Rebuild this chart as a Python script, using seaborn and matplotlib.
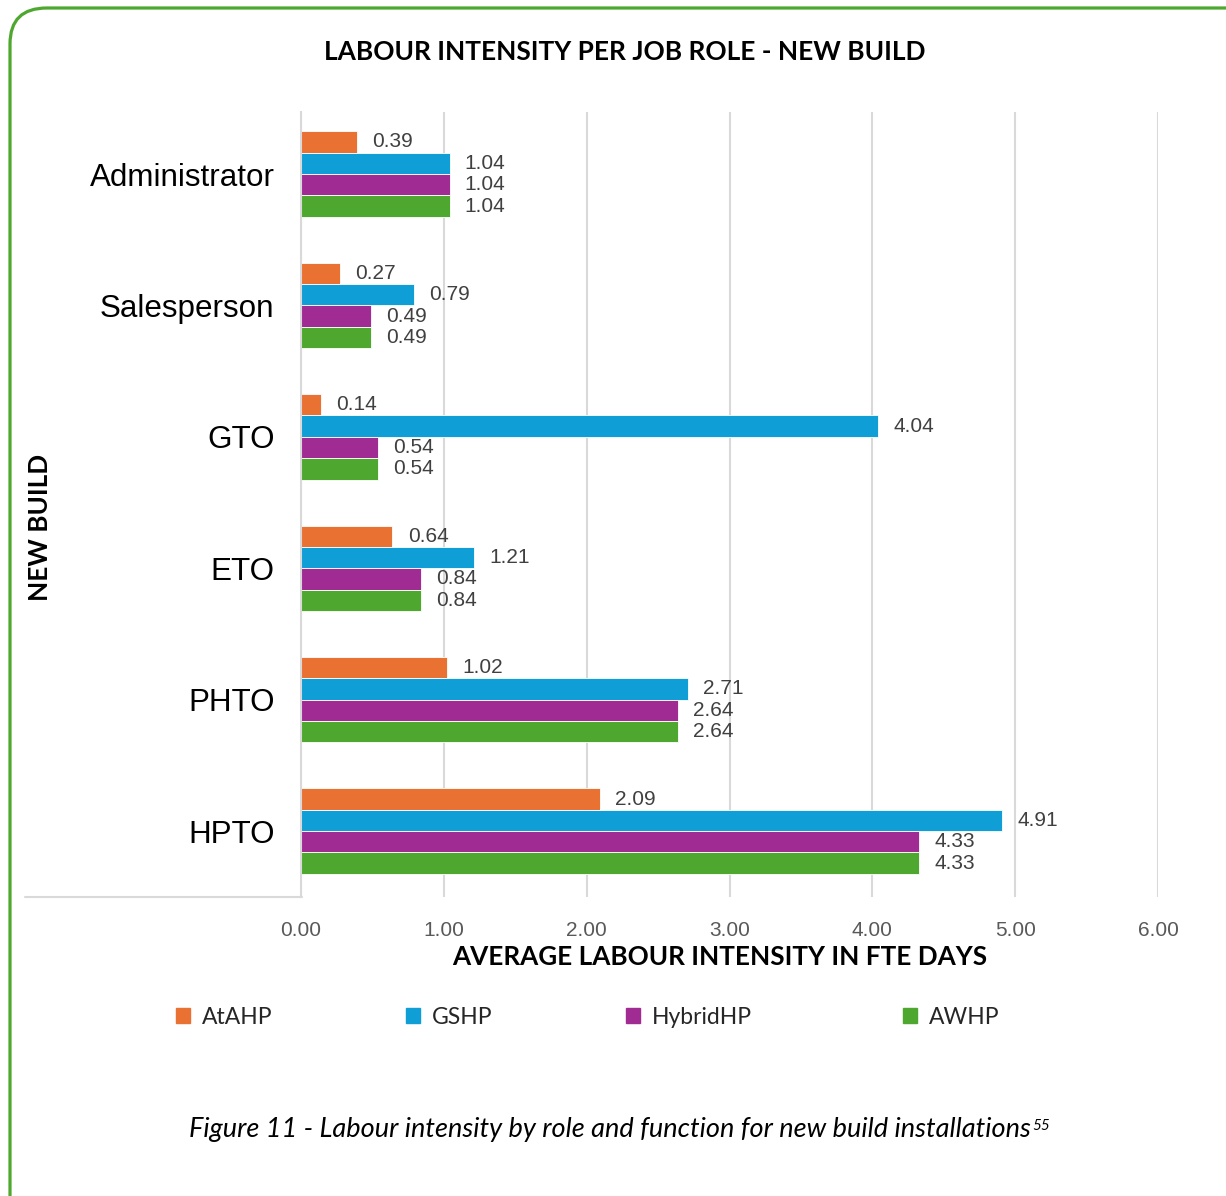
import matplotlib
matplotlib.use("Agg")
import matplotlib.pyplot as plt
from matplotlib import font_manager
from matplotlib.patches import FancyBboxPatch, Patch
from matplotlib.lines import Line2D
import seaborn as sns
import pandas as pd

# ---- data ----
roles = ["Administrator", "Salesperson", "GTO", "ETO", "PHTO", "HPTO"]
series = ["AtAHP", "GSHP", "HybridHP", "AWHP"]
atahp = [0.39, 0.27, 0.14, 0.64, 1.02, 2.09]
gshp = [1.04, 0.79, 4.04, 1.21, 2.71, 4.91]
hybridhp = [1.04, 0.49, 0.54, 0.84, 2.64, 4.33]
awhp = [1.04, 0.49, 0.54, 0.84, 2.64, 4.33]
x_ticks = [0, 1, 2, 3, 4, 5, 6]
colors = ["#E97132", "#0F9ED5", "#A02B93", "#4EA72E"]

title = "LABOUR INTENSITY PER JOB ROLE - NEW BUILD"
xlabel = "AVERAGE LABOUR INTENSITY IN FTE DAYS"
ylabel = "NEW BUILD"
caption = "Figure 11 - Labour intensity by role and function for new build installations"
caption_sup = "55"

rows = []
for s, vals in zip(series, [atahp, gshp, hybridhp, awhp]):
    for r, v in zip(roles, vals):
        rows.append({"role": r, "type": s, "value": v})
df = pd.DataFrame(rows)

sns.set_theme(style="white")
available = {f.name for f in font_manager.fontManager.ttflist}
def pick(*names):
    for n in names:
        if n in available:
            return n
    return "DejaVu Sans"
F_ARIAL = pick("Liberation Sans", "Arimo", "DejaVu Sans")
F_NARROW = pick("Liberation Sans Narrow", "Liberation Sans")
F_LATO = pick("Lato", "Open Sans", "DejaVu Sans")
plt.rcParams["font.family"] = [F_ARIAL, "DejaVu Sans"]

W, H = 1226, 1196
fig = plt.figure(figsize=(W / 100, H / 100), dpi=100)
fig.patch.set_facecolor("white")

ax = fig.add_axes([301 / W, 1 - 897 / H, (1158 - 301) / W, (897 - 112) / H])
sns.barplot(data=df, y="role", x="value", hue="type", orient="h",
            order=roles, hue_order=series, palette=colors, width=0.65,
            edgecolor="white", linewidth=0.6, saturation=1, legend=False, ax=ax)

ax.set_xlim(0, 6)
ax.set_ylim(5.502, -0.472)
ax.set_xticks(x_ticks)
ax.set_xticklabels([f"{t:.2f}" for t in x_ticks], fontsize=15,
                   color="#595959", family=F_NARROW)
ax.tick_params(axis="x", length=0, pad=17)
ax.tick_params(axis="y", length=0, pad=19)
for lab in ax.get_yticklabels():
    lab.set_fontsize(22.6)
    lab.set_color("black")
    lab.set_family(F_ARIAL)

ax.grid(axis="x", color="#D9D9D9", linewidth=1.5)
ax.grid(axis="y", visible=False)
ax.set_axisbelow(True)
for s in ["top", "right", "bottom"]:
    ax.spines[s].set_visible(False)
ax.spines["left"].set_color("#D9D9D9")
ax.spines["left"].set_linewidth(1.5)

for cont in ax.containers:
    ax.bar_label(cont, fmt="%.2f", padding=11, fontsize=15, color="#404040",
                 family=F_ARIAL)

ax.set_xlabel("")
ax.set_ylabel("")

# bottom category-axis line to the left of the plot
fig.add_artist(Line2D([25 / W, 302 / W], [1 - 897 / H, 1 - 897 / H],
                      color="#D9D9D9", linewidth=1.5, transform=fig.transFigure))

# titles
fig.text(625 / W, 1 - 52 / H, title, ha="center", va="center",
         fontsize=18.9, fontweight="bold", family=F_LATO, color="black")
fig.text(720 / W, 1 - 957 / H, xlabel, ha="center", va="center",
         fontsize=18.8, fontweight="bold", family=F_LATO, color="black")
fig.text(40 / W, 1 - 527 / H, ylabel, ha="center", va="center", rotation=90,
         fontsize=18.8, fontweight="bold", family=F_LATO, color="black")

# legend: separate entries at Excel positions
leg_x = [176, 406, 626, 903]
for s, c, lx in zip(series, colors, leg_x):
    h = Patch(facecolor=c, edgecolor=c)
    fig.legend(handles=[h], labels=[s], loc="center left",
               bbox_to_anchor=(lx / W, 1 - 1017 / H), frameon=False,
               borderpad=0, borderaxespad=0,
               handlelength=0.6, handleheight=0.6, handletextpad=0.55,
               prop={"family": F_LATO, "size": 16.5})

# caption
t = fig.text(610 / W, 1 - 1130 / H, caption, ha="center", va="center",
             fontsize=19.5, style="italic", family=F_LATO, color="black")
fig.canvas.draw()
bb = t.get_window_extent()
fig.text((bb.x1 + 1) / W, (bb.y1 - 8) / H, caption_sup, ha="left", va="center",
         fontsize=11, style="italic", family=F_LATO, color="black")

# rounded green frame
frame = FancyBboxPatch((10 / W, -60 / H), (W + 60) / W, (H + 60 - 8) / H,
                       boxstyle="round,pad=0,rounding_size=0.03",
                       transform=fig.transFigure, facecolor="none",
                       edgecolor="#4EA72E", linewidth=2.3, clip_on=False,
                       mutation_aspect=1)
fig.patches.append(frame)

fig.savefig("out.png", dpi=100)
